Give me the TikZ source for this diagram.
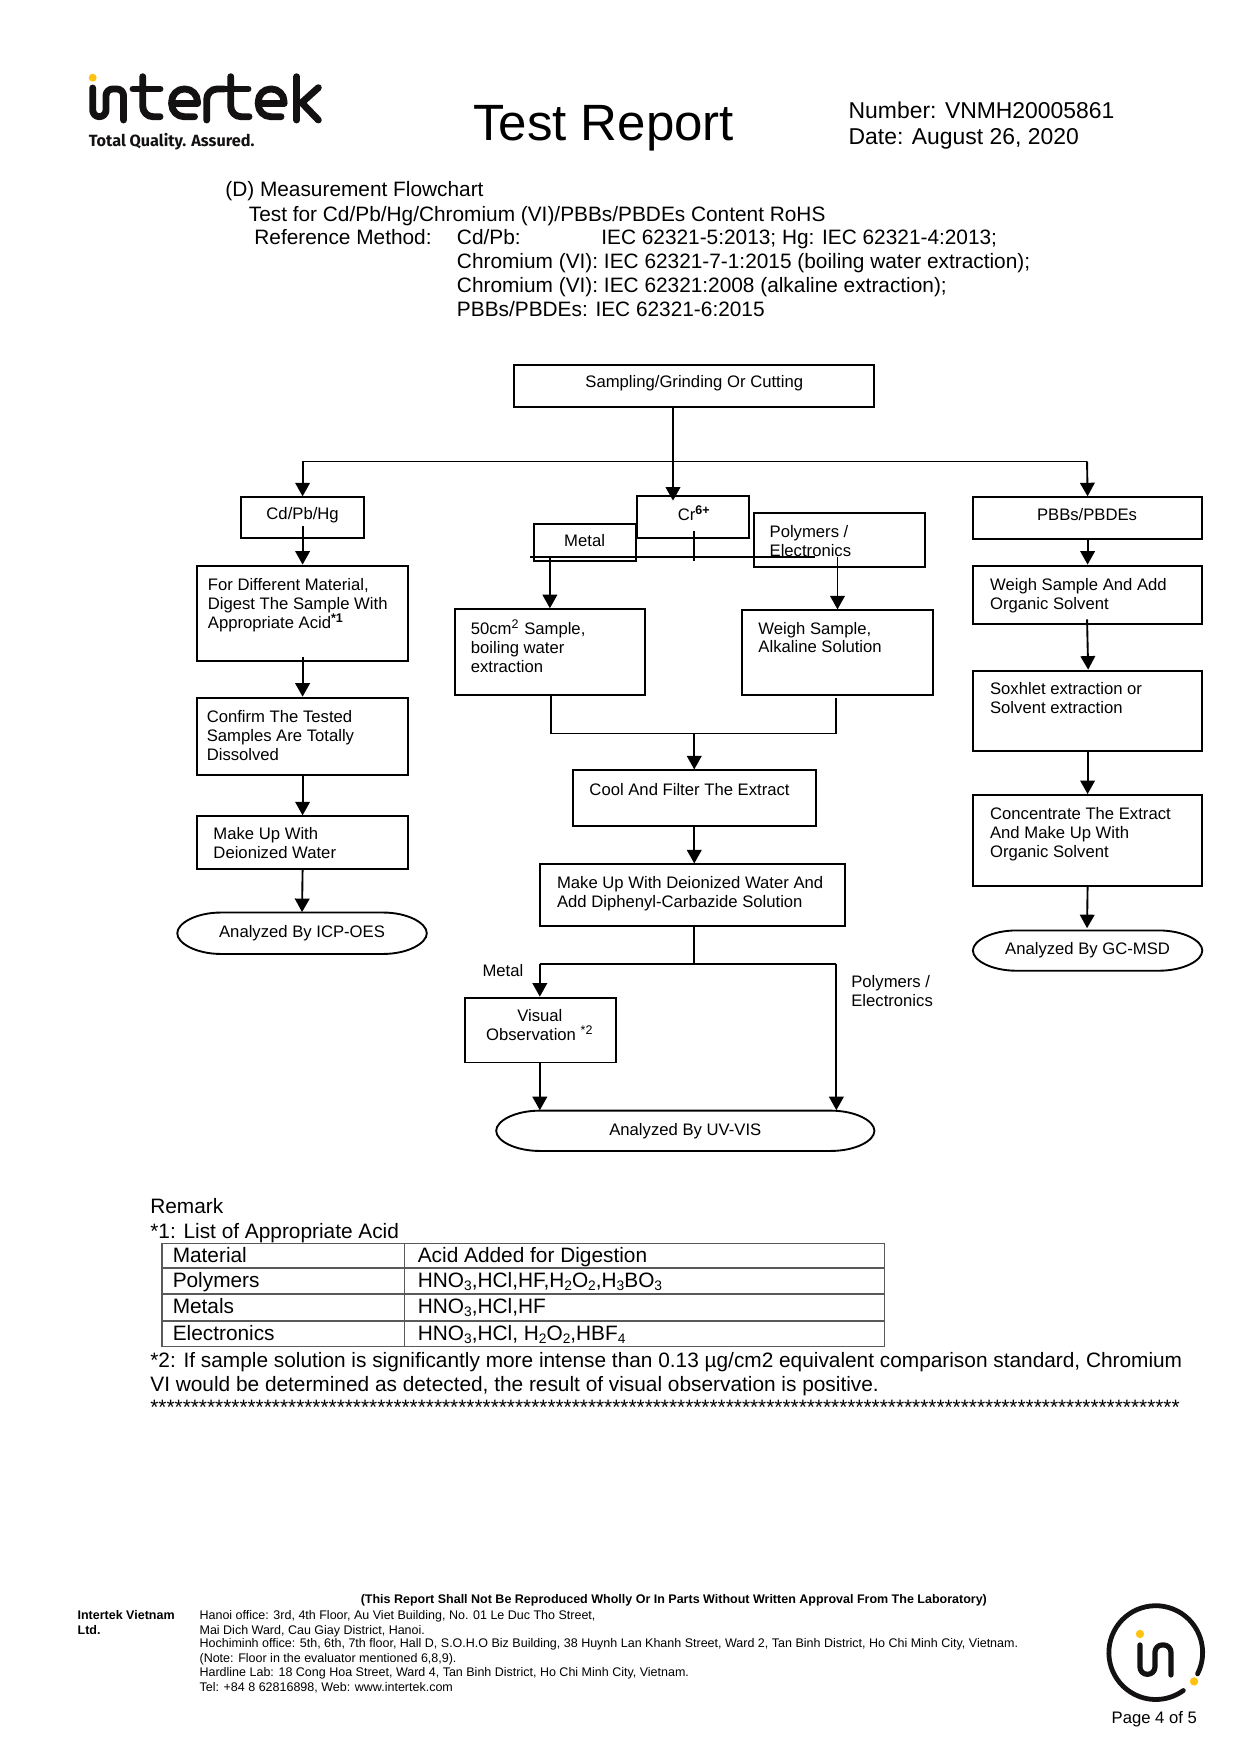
\documentclass[tikz,border=0pt]{standalone}
\usepackage{fontspec}
\setmainfont{Liberation Sans}
\newfontfamily\tagf{Fira Sans}
\usetikzlibrary{arrows.meta}
\definecolor{lgk}{HTML}{141113}
\definecolor{lgy}{HTML}{FFC20E}
\newcommand\bx[5]{\node[boxs,minimum width={(#4-#2)*0.5371pt},minimum height={(#5-#3)*0.5372pt}] (#1) at ({(#2+#4)/2},{(#3+#5)/2}) {};}
\newcommand\term[5]{%
  \node[termtxt,minimum width={(#4-#2)*0.5371pt},minimum height={(#5-#3)*0.5372pt}] (#1) at ({(#2+#4)/2},{(#3+#5)/2}) {\csname tt#1\endcsname};
  \draw[conn] ({#2+39},#3) -- ({#4-39},#3) .. controls ({#4-17},#3) and (#4,{(#3+#5)/2-9}) .. (#4,{(#3+#5)/2}) .. controls (#4,{(#3+#5)/2+9}) and ({#4-17},#5) .. ({#4-39},#5) -- ({#2+39},#5) .. controls ({#2+17},#5) and (#2,{(#3+#5)/2+9}) .. (#2,{(#3+#5)/2}) .. controls (#2,{(#3+#5)/2-9}) and ({#2+17},#3) .. cycle;}
\newcommand\ttuv{Analyzed By UV-VIS}
\newcommand\tticp{Analyzed By ICP-OES}
\newcommand\ttgc{Analyzed By GC-MSD}
\newcommand\starten{**********}
\newcommand\sbs[1]{\raisebox{-0.16em}{\fontsize{6.6}{7}\selectfont #1}}
\tikzset{
  conn/.style={line width=0.9pt,draw=black},
  arr/.style={conn,-{Triangle[length=6.5pt,width=7pt]}},
  boxs/.style={draw=black,line width=0.9pt,inner sep=0pt,fill=none},
  termtxt/.style={inner sep=0pt,font=\fontsize{8}{9.1}\selectfont},
  small/.style={inner sep=0pt,align=left,anchor=north west,font=\fontsize{8}{9.1}\selectfont},
  smallc/.style={inner sep=0pt,align=center,anchor=north,font=\fontsize{8}{9.1}\selectfont},
  body/.style={inner sep=0pt,anchor=base west,yshift=-0.2pt,font=\fontsize{10}{12}\selectfont},
  head/.style={inner sep=0pt,anchor=base west,font=\fontsize{11}{12}\selectfont},
  foot/.style={inner sep=0pt,anchor=base west,font=\fontsize{6}{7}\selectfont},
  tline/.style={draw=black!65,line width=0.8pt},
  logo/.style={draw=lgk,line cap=round,line join=round}
}
\begin{document}
\begin{tikzpicture}[x=0.5371pt,y=-0.5372pt]
\useasboundingbox (0,0) rectangle (1109,1568);
\fill[white] (0,0) rectangle (1109,1568);

% top logo (coordinates in full-size pixels)
\begin{scope}[x=0.48pt,y=-0.48pt]
  \fill[lgy] (92.7,77.7) circle[radius=1.9pt];
  \draw[logo,line width=3.3pt,rounded corners=3.2pt] (92.7,88) -- (92.7,116.7) -- (106,116.7) -- (106,89) -- (123.5,89) -- (123.5,120);
  \draw[logo,line width=3.3pt,rounded corners=5pt] (142.7,76.7) -- (142.7,116.7) -- (160,116.7);
  \draw[logo,line width=3.3pt] (133,89) -- (160,89);
  \draw[logo,line width=3.3pt,rounded corners=6pt] (171.7,103.3) -- (171.7,89) -- (197.4,89) -- (197.4,103.3);
  \draw[logo,line width=3.3pt,rounded corners=6pt] (171.7,103.3) -- (171.7,116.7) -- (194.5,116.7);
  \draw[logo,line width=3.3pt] (171.7,103.3) -- (197.4,103.3);
  \draw[logo,line width=3.3pt,rounded corners=5pt] (206.7,120) -- (206.7,89) -- (224,89);
  \draw[logo,line width=3.3pt,rounded corners=5pt] (230.7,76.7) -- (230.7,116.7) -- (249,116.7);
  \draw[logo,line width=3.3pt] (224,89) -- (248,89);
  \draw[logo,line width=3.3pt,rounded corners=6pt] (258.3,103.3) -- (258.3,89) -- (284,89) -- (284,103.3);
  \draw[logo,line width=3.3pt,rounded corners=6pt] (258.3,103.3) -- (258.3,116.7) -- (281,116.7);
  \draw[logo,line width=3.3pt] (258.3,103.3) -- (284,103.3);
  \draw[logo,line width=3.3pt] (296.7,76.7) -- (296.7,120);
  \draw[logo,line width=3.3pt] (301.7,102.7) -- (318.3,87.7);
  \draw[logo,line width=3.3pt] (301.7,102.7) -- (318.3,120);
\end{scope}
\node[inner sep=0pt,anchor=base west,font=\tagf\bfseries\fontsize{7.8}{10}\selectfont,text=lgk] (tagline) at (79,131) {Total Quality. Assured.};

% header
\node[inner sep=0pt,anchor=base west,font=\fontsize{24.5}{26}\selectfont] (title) at (422.5,125.5) {Test Report};
\node[head] (num) at (758,106) {Number: VNMH20005861};
\node[head] (dat) at (758,129) {Date: August 26, 2020};
\node[body] (h1) at (201,175.5) {(D) Measurement Flowchart};
\node[body] (h2) at (222,197.5) {Test for Cd/Pb/Hg/Chromium (VI)/PBBs/PBDEs Content RoHS};
\node[body] (h3) at (227,218) {Reference Method:};
\node[body] (h4) at (408,218) {Cd/Pb:};
\node[body] (h5) at (537,218) {IEC 62321-5:2013; Hg: IEC 62321-4:2013;};
\node[body] (h6) at (408,239.5) {Chromium (VI): IEC 62321-7-1:2015 (boiling water extraction);};
\node[body] (h7) at (408,261) {Chromium (VI): IEC 62321:2008 (alkaline extraction);};
\node[body] (h8) at (408,282.5) {PBBs/PBDEs: IEC 62321-6:2015};

\begin{scope}[shift={(0.4,0.3)}]
% boxes
\bx{samp}{459}{326}{781}{363}
\node[smallc] (sampt) at (620,335) {Sampling/Grinding Or Cutting};
\bx{cd}{215}{444}{325}{480}
\node[smallc] (cdt) at (270,453) {Cd/Pb/Hg};
\bx{dig}{176}{505}{364}{590}
\node[small] (digt) at (185,516) {For Different Material,\\Digest The Sample With\\Appropriate Acid\textsuperscript{\bfseries *1}};
\bx{conf}{176}{623}{364}{692}
\node[small] (conft) at (184,634) {Confirm The Tested\\Samples Are Totally\\Dissolved};
\bx{mk}{176}{729}{364}{776}
\node[small] (mkt) at (190,739) {Make Up With\\Deionized Water};
\bx{cr}{569}{443}{669}{480}
\node[smallc] (crt) at (620,451) {Cr\textsuperscript{\bfseries 6+}};
\bx{met}{477}{468}{568}{501}
\node[smallc] (mett) at (522,477) {Metal};
\bx{pol}{673}{458}{826}{506}
\node[small] (polt) at (687,469) {Polymers /\\Electronics};
\bx{fifty}{406}{544}{576}{621}
\node[small] (fiftyt) at (420,553) {50cm\textsuperscript{2} Sample,\\boiling water\\extraction};
\bx{wei}{663}{545}{833}{621}
\node[small] (weit) at (677,555) {Weigh Sample,\\Alkaline Solution};
\bx{cool}{512}{688}{729}{738}
\node[small] (coolt) at (526,699) {Cool And Filter The Extract};
\bx{mkd}{482}{772}{755}{827}
\node[small] (mkdt) at (497,782) {Make Up With Deionized Water And\\Add Diphenyl-Carbazide Solution};
\bx{vis}{415}{891}{550}{949}
\node[smallc] (vist) at (482,901) {Visual\\Observation \textsuperscript{*2}};
\node[smallc] (lmet) at (449,861) {Metal};
\node[small] (lpol) at (760,871) {Polymers /\\Electronics};
\bx{pb}{869}{444}{1074}{481}
\node[smallc] (pbt) at (971,454) {PBBs/PBDEs};
\bx{wsa}{869}{505}{1074}{557}
\node[small] (wsat) at (884,516) {Weigh Sample And Add\\Organic Solvent};
\bx{sox}{869}{599}{1074}{671}
\node[small] (soxt) at (884,609) {Soxhlet extraction or\\Solvent extraction};
\bx{con}{869}{710}{1074}{791}
\node[small] (cont) at (884,721) {Concentrate The Extract\\And Make Up With\\Organic Solvent};
\term{icp}{158}{815}{381}{852}
\term{gc}{869}{831}{1074}{867}
\term{uv}{443}{992}{781}{1028}

% connectors
\coordinate (j0) at (601,412);
\coordinate (jl) at (270,412);
\coordinate (jr) at (971,412);
\draw[conn] (samp.south -| j0) -- (j0);
\draw[conn] (jl) -- (jr);
\draw[arr] (jl) -- (cd.north);
\draw[arr] (j0) -- (601,447);
\draw[arr] (jr) -- (pb.north);
\draw[arr] (270,470) -- (dig.north);
\draw[arr] (270,587) -- (conf.north);
\draw[arr] (conf.south) -- (mk.north);
\draw[arr] (mk.south) -- (icp.north);
\draw[arr] (pb.south) -- (wsa.north);
\draw[arr] (971,553) -- (972,598);
\draw[arr] (sox.south) -- (con.north);
\draw[arr] (con.south) -- (971,829);
% Cr6+ branch
\coordinate (ml) at (473,497);
\coordinate (mr) at (728,497);
\coordinate (a1) at (491,497);
\coordinate (a2) at (748,497);
\draw[conn] (620,474) -- (620,501);
\draw[conn] (ml) -- (mr);
\draw[arr] (a1) -- (fifty.north -| a1);
\draw[arr] (a2) -- (wei.north -| a2);
\coordinate (b1) at (492,655);
\coordinate (b2) at (747,655);
\coordinate (b0) at (620,655);
\draw[conn] (b1 |- fifty.south) -- (b1) -- (b2) -- (747,623);
\draw[arr] (b0) -- (cool.north -| b0);
\draw[arr] (cool.south -| b0) -- (mkd.north -| b0);
\coordinate (c0) at (620,861);
\coordinate (c1) at (482,861);
\coordinate (c2) at (747,861);
\draw[conn] (mkd.south -| c0) -- (c0);
\draw[conn] (c1) -- (c2);
\draw[arr] (c1) -- (vis.north -| c1);
\draw[arr] (c2) -- (uv.north -| c2);
\draw[arr] (vis.south -| c1) -- (uv.north -| c1);
\end{scope}

% remark
\node[body] (r1) at (134,1084) {Remark};
\node[body] (r2) at (134,1106) {*1: List of Appropriate Acid};
\draw[tline] (144.5,1111) rectangle (790.5,1203);
\draw[tline] (144.5,1133) -- (790.5,1133);
\draw[tline] (144.5,1156) -- (790.5,1156);
\draw[tline] (144.5,1180) -- (790.5,1180);
\draw[tline] (361.5,1111) -- (361.5,1203);
\node[body] (ta1) at (154,1128) {Material};
\node[body] (ta2) at (373,1128) {Acid Added for Digestion};
\node[body] (tb1) at (154,1150) {Polymers};
\node[body] (tb2) at (373,1150) {HNO\sbs{3},HCl,HF,H\sbs{2}O\sbs{2},H\sbs{3}BO\sbs{3}};
\node[body] (tc1) at (154,1173) {Metals};
\node[body] (tc2) at (373,1173) {HNO\sbs{3},HCl,HF};
\node[body] (td1) at (154,1197) {Electronics};
\node[body] (td2) at (373,1197) {HNO\sbs{3},HCl, H\sbs{2}O\sbs{2},HBF\sbs{4}};
\node[body] (r3) at (134,1221) {*2: If sample solution is significantly more intense than 0.13 µg/cm2 equivalent comparison standard, Chromium};
\node[body] (r4) at (134,1243) {VI would be determined as detected, the result of visual observation is positive.};
\node[body] (r5) at (134,1263) {\starten\starten\starten\starten\starten\starten\starten\starten\starten\starten\starten\starten*******};

% footer
\node[foot,font=\bfseries\fontsize{6}{7}\selectfont] (f0) at (322,1433) {(This Report Shall Not Be Reproduced Wholly Or In Parts Without Written Approval From The Laboratory)};
\node[foot,font=\bfseries\fontsize{6}{7}\selectfont] (f1) at (69,1447) {Intertek Vietnam};
\node[foot,font=\bfseries\fontsize{6}{7}\selectfont] (f2) at (69,1460) {Ltd.};
\node[foot] (g1) at (178,1447) {Hanoi office: 3rd, 4th Floor, Au Viet Building, No. 01 Le Duc Tho Street,};
\node[foot] (g2) at (178,1460) {Mai Dich Ward, Cau Giay District, Hanoi.};
\node[foot] (g3) at (178,1472) {Hochiminh office: 5th, 6th, 7th floor, Hall D, S.O.H.O Biz Building, 38 Huynh Lan Khanh Street, Ward 2, Tan Binh District, Ho Chi Minh City, Vietnam.};
\node[foot] (g4) at (178,1485) {(Note: Floor in the evaluator mentioned 6,8,9).};
\node[foot] (g5) at (178,1498) {Hardline Lab: 18 Cong Hoa Street, Ward 4, Tan Binh District, Ho Chi Minh City, Vietnam.};
\node[foot] (g6) at (178,1511) {Tel:  +84 8 62816898, Web: www.intertek.com};

% bottom logo
\coordinate (lc) at (1032.8,1476.5);
\draw[logo,line width=2.3pt] (lc) ++(-27:22.5pt) arc[start angle=-27,end angle=306,radius=22.5pt];
\fill[lgy] (lc) ++(-37:23pt) circle[radius=2pt];
\begin{scope}[shift={(974,1425)},x=0.16pt,y=-0.16pt]
  \fill[lgy] (150,117) circle[radius=2pt];
  \draw[logo,line width=2.5pt,rounded corners=3.5pt] (150,150) -- (150,238) -- (195,238) -- (195,150) -- (243,150) -- (243,240);
\end{scope}
\node[head,font=\fontsize{8}{9}\selectfont] (pg) at (993,1540) {Page 4 of 5};
\end{tikzpicture}
\end{document}
